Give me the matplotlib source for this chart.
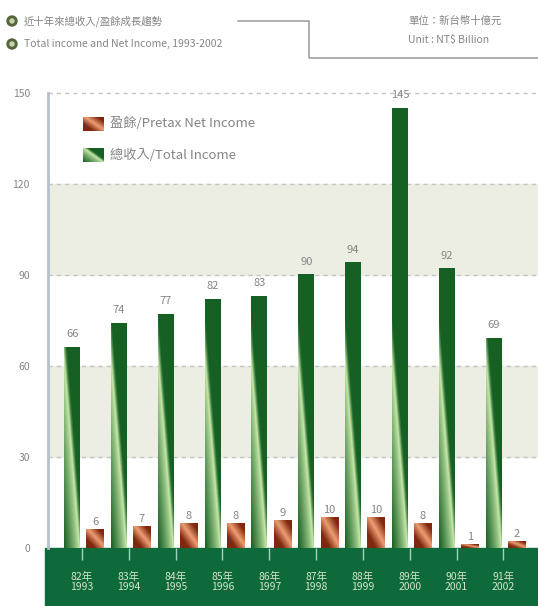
import numpy as np
import matplotlib
matplotlib.use("Agg")
import matplotlib.pyplot as plt
from matplotlib.patches import Rectangle, Circle

plt.rcParams['font.family'] = ['Noto Sans CJK TC', 'DejaVu Sans']

years_roc = ['82年', '83年', '84年', '85年', '86年', '87年', '88年', '89年', '90年', '91年']
years_ad = ['1993', '1994', '1995', '1996', '1997', '1998', '1999', '2000', '2001', '2002']
total_income = [66, 74, 77, 82, 83, 90, 94, 145, 92, 69]
net_income = [6, 7, 8, 8, 9, 10, 10, 8, 1, 2]
yticks = [0, 30, 60, 90, 120, 150]

GREEN_DARK = np.array([0.09, 0.38, 0.14])
GREEN_LIGHT = np.array([0.80, 0.93, 0.68])
RED_DARK = np.array([0.50, 0.16, 0.06])
RED_LIGHT = np.array([0.93, 0.62, 0.45])
TXT = '#858585'


def green_fill(h, nx=24, ny=200):
    # diagonal light streak from left edge (~60) down to right edge at 0
    u = np.linspace(0, 1, nx)[None, :]
    y = np.linspace(0, h, ny)[:, None]
    d = u + y / 62.0 - 1
    w = np.where(d >= 0, np.clip(d / 0.22, 0, 1), np.clip(-d / 1.0, 0, 1)) ** 0.8
    return GREEN_LIGHT + (GREEN_DARK - GREEN_LIGHT) * w[..., None]


def red_fill(nx=24, ny=40):
    u = np.linspace(0, 1, nx)[None, :]
    t = np.linspace(0, 1, ny)[:, None]
    d = u + t - 1.1
    w = np.clip(np.abs(d) / 0.6, 0, 1)
    return RED_LIGHT + (RED_DARK - RED_LIGHT) * w[..., None]


W, H = 538, 606
fig = plt.figure(figsize=(W / 100, H / 100), dpi=100)

# overlay for header and bottom band (pixel coords)
ov = fig.add_axes([0, 0, 1, 1])
ov.set_xlim(0, W)
ov.set_ylim(H, 0)
ov.axis('off')
ov.add_patch(Rectangle((45, 548), W - 45, H - 548, color='#0e6a3a', zorder=1))
for yy in (21, 44):
    ov.add_patch(Circle((12, yy), 5, color='#56663c'))
    ov.add_patch(Circle((12, yy), 2, color='#c9d2b0'))
ov.text(24, 21, '近十年來總收入/盈餘成長趨勢', fontsize=7.5, color=TXT, va='center')
ov.text(24, 44, 'Total income and Net Income, 1993-2002', fontsize=7.5, color=TXT, va='center')
ov.text(408, 21, '單位：新台幣十億元', fontsize=7.5, color=TXT, va='center')
ov.text(408, 40, 'Unit : NT$ Billion', fontsize=7.5, color=TXT, va='center')
ov.plot([238, 309, 309, W], [21, 21, 58, 58], color='#9a9a9a', lw=1.1)

# main chart
ymax = 152
ax_h = 455 * ymax / 150
ax = fig.add_axes([48 / W, (H - 548) / H, (W - 48) / W, ax_h / H])
ax.set_facecolor('none')
x = np.arange(len(years_ad))
gw, rw = 0.34, 0.37
goff, roff = -0.21, 0.28

ax.axhspan(30, 60, color='#ecede3', zorder=0)
ax.axhspan(90, 120, color='#ecede3', zorder=0)
for t in yticks[1:]:
    ax.axhline(t, color='#c4c4c4', lw=1, ls=(0, (3, 3)), zorder=1, clip_on=False)

for i in range(len(x)):
    g = total_income[i]
    ax.imshow(green_fill(g), extent=[x[i] + goff - gw / 2, x[i] + goff + gw / 2, 0, g],
              origin='lower', aspect='auto', interpolation='bilinear', zorder=3)
    r = net_income[i]
    ax.imshow(red_fill(), extent=[x[i] + roff - rw / 2, x[i] + roff + rw / 2, 0, r],
              origin='lower', aspect='auto', interpolation='bilinear', zorder=3)
    ax.annotate(str(g), (x[i] + goff, g), xytext=(0, 6), textcoords='offset points',
                ha='center', va='bottom', fontsize=8, color=TXT)
    ax.annotate(str(r), (x[i] + roff, r), xytext=(0, 2), textcoords='offset points',
                ha='center', va='bottom', fontsize=8, color=TXT)

# ticks and year labels in the green band
ax.vlines(x, -4, 0, color='#9fd3bd', lw=1, clip_on=False, zorder=4)
for i in range(len(x)):
    ax.annotate(years_roc[i] + '\n' + years_ad[i], (x[i], 0), xytext=(0, -17),
                textcoords='offset points', ha='center', va='top', fontsize=7.5,
                color='#d2e6c8', linespacing=1.0, annotation_clip=False)

# legend
ax.imshow(red_fill(), extent=[0.071, 0.112, 0.905, 0.935], transform=ax.transAxes,
          origin='lower', aspect='auto', interpolation='bilinear', zorder=3)
ax.imshow(green_fill(60), extent=[0.071, 0.112, 0.837, 0.867], transform=ax.transAxes,
          origin='lower', aspect='auto', interpolation='bilinear', zorder=3)
ax.text(0.127, 0.920, '盈餘/Pretax Net Income', transform=ax.transAxes, fontsize=9.5,
        color=TXT, va='center')
ax.text(0.127, 0.852, '總收入/Total Income', transform=ax.transAxes, fontsize=9.5,
        color=TXT, va='center')

ax.set_xlim(-0.726, 9.74)
ax.set_ylim(0, ymax)
ax.set_yticks(yticks)
ax.set_yticklabels([str(t) for t in yticks], fontsize=7.5, color=TXT)
ax.tick_params(axis='y', length=0, pad=13)
ax.set_xticks([])
for s in ['top', 'right', 'bottom']:
    ax.spines[s].set_visible(False)
ax.spines['left'].set_color('#b9bfcc')
ax.spines['left'].set_linewidth(2)
ax.spines['left'].set_bounds(0, 150)

fig.savefig('out.png', dpi=100)
